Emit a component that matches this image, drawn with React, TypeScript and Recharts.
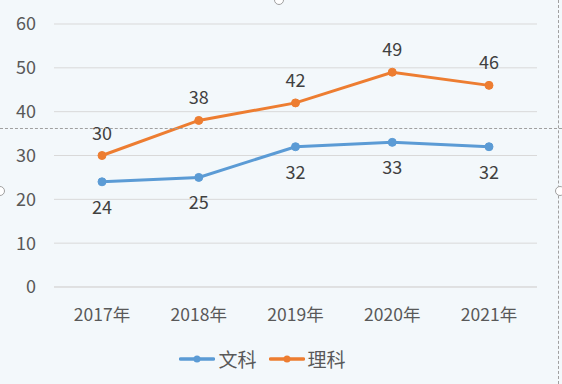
import { LineChart, Line, XAxis, YAxis, CartesianGrid, Legend, LabelList } from 'recharts';

const years = ['2017年', '2018年', '2019年', '2020年', '2021年'];
const arts = [24, 25, 32, 33, 32];
const science = [30, 38, 42, 49, 46];
const yTicks = [0, 10, 20, 30, 40, 50, 60];

const data = years.map((year, i) => ({ year, arts: arts[i], science: science[i] }));

const FONT = '"Noto Sans CJK SC", "Open Sans", sans-serif';
const BLUE = '#5b9bd5';
const ORANGE = '#ed7d31';

function LegendBox() {
  const items = [
    { name: '文科', color: BLUE },
    { name: '理科', color: ORANGE },
  ];
  return (
    <div style={{ display: 'flex', justifyContent: 'center', fontFamily: FONT, fontSize: 19, color: '#595959' }}>
      {items.map((it) => (
        <div key={it.name} style={{ display: 'flex', alignItems: 'center', marginRight: 12 }}>
          <svg width={36} height={10} style={{ marginRight: 3 }}>
            <line x1={1.5} y1={5} x2={34.5} y2={5} stroke={it.color} strokeWidth={3.5} strokeLinecap="round" />
            <circle cx={18} cy={5} r={3.5} fill={it.color} />
          </svg>
          <span>{it.name}</span>
        </div>
      ))}
    </div>
  );
}

export default function App() {
  return (
    <div style={{ position: 'absolute', left: 0, top: 0, width: 562, height: 384, background: '#f3f8fb', overflow: 'hidden' }}>
      <LineChart width={562} height={384} data={data} margin={{ top: 24, right: 25, bottom: 22, left: 0 }}>
        <CartesianGrid vertical={false} stroke="#d9d9d9" />
        <XAxis
          dataKey="year"
          padding={{ left: 48, right: 48 }}
          axisLine={{ stroke: '#d9d9d9' }}
          tickLine={false}
          tickSize={0}
          tickMargin={22}
          tick={{ fill: '#595959', fontSize: 17.5, fontFamily: FONT }}
          height={48}
        />
        <YAxis
          domain={[0, 60]}
          ticks={yTicks}
          width={54}
          axisLine={false}
          tickLine={false}
          tickSize={0}
          tickMargin={18}
          tick={{ fill: '#595959', fontSize: 18, fontFamily: FONT }}
        />
        <Legend verticalAlign="bottom" content={() => <LegendBox />} wrapperStyle={{ bottom: 12 }} />
        <Line
          dataKey="arts"
          name="文科"
          stroke={BLUE}
          strokeWidth={3}
          dot={{ r: 4, fill: BLUE, stroke: BLUE, strokeWidth: 1 }}
          isAnimationActive={false}
        >
          <LabelList dataKey="arts" position="bottom" offset={19} fill="#404040" fontSize={18} fontFamily={FONT} />
        </Line>
        <Line
          dataKey="science"
          name="理科"
          stroke={ORANGE}
          strokeWidth={3}
          dot={{ r: 4, fill: ORANGE, stroke: ORANGE, strokeWidth: 1 }}
          isAnimationActive={false}
        >
          <LabelList dataKey="science" position="top" offset={16} fill="#404040" fontSize={18} fontFamily={FONT} />
        </Line>
      </LineChart>
      {/* selection frame left over from the spreadsheet */}
      <div style={{ position: 'absolute', left: 0, top: 128, width: 562, borderTop: '1px dashed #a0a0a0' }} />
      <div style={{ position: 'absolute', left: 558, top: 0, height: 384, borderLeft: '1px dashed #a0a0a0' }} />
      <div style={{ position: 'absolute', left: 274, top: -5, width: 8, height: 8, borderRadius: 5, border: '1px solid #a0a0a0', background: '#fff' }} />
      <div style={{ position: 'absolute', left: -5, top: 186, width: 8, height: 8, borderRadius: 5, border: '1px solid #a0a0a0', background: '#fff' }} />
      <div style={{ position: 'absolute', left: 555, top: 186, width: 8, height: 8, borderRadius: 5, border: '1px solid #a0a0a0', background: '#fff' }} />
    </div>
  );
}
